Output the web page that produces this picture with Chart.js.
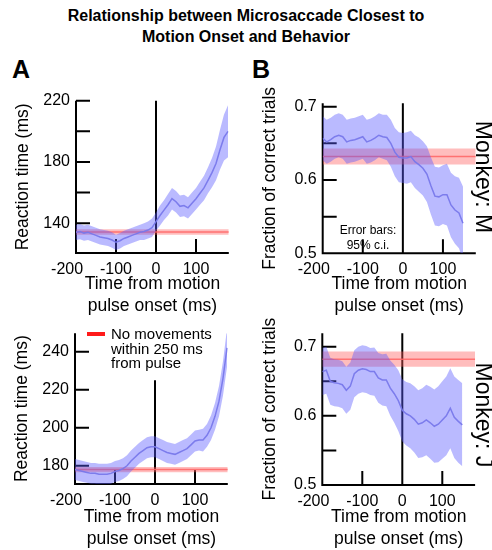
<!DOCTYPE html>
<html>
<head>
<meta charset="utf-8">
<script src="https://cdn.jsdelivr.net/npm/chart.js@4/dist/chart.umd.min.js"></script>
<style>
  body { margin: 0; width: 492px; height: 550px; overflow: hidden; position: relative; background: #fff;
         font-family: "Liberation Sans", Arial, sans-serif; color: #000; }
  canvas { position: absolute; }
  .t { position: absolute; white-space: nowrap; }
</style>
</head>
<body>
<div class="t" style="left:0;width:492px;top:5px;text-align:center;font-weight:bold;font-size:16px;line-height:21px;">Relationship between Microsaccade Closest to<br>Motion Onset and Behavior</div>
<div class="t" style="left:12px;top:57px;font-weight:bold;font-size:25px;line-height:25px;">A</div>
<div class="t" style="left:252px;top:57px;font-weight:bold;font-size:25px;line-height:25px;">B</div>

<canvas id="rtM" width="246" height="240" style="left:0;top:80px"></canvas>
<canvas id="pcM" width="246" height="240" style="left:246px;top:80px"></canvas>
<canvas id="rtJ" width="246" height="236" style="left:0;top:315px"></canvas>
<canvas id="pcJ" width="246" height="236" style="left:246px;top:315px"></canvas>

<div class="t" style="left:483px;top:177px;font-size:23px;transform:translate(-50%,-50%) rotate(90deg);">Monkey: M</div>
<div class="t" style="left:483px;top:415px;font-size:23px;transform:translate(-50%,-50%) rotate(90deg);">Monkey: J</div>
<div class="t" style="left:368px;top:223px;transform:translateX(-50%);text-align:center;font-size:12px;line-height:15px;">Error bars:<br>95% c.i.</div>
<div style="position:absolute;left:87px;top:332px;width:18px;height:4px;background:#ff1a1a;"></div>
<div class="t" style="left:111px;top:327px;font-size:15px;line-height:14.5px;">No movements<br>within 250 ms<br>from pulse</div>

<script>
// time from pulse onset (ms)
const tRT = [-200,-190,-180,-170,-160,-150,-140,-130,-120,-110,
             -100,-90,-80,-70,-60,-50,-40,-30,-20,-10,
             0,10,20,30,40,50,60,70,80,90,
             100,110,120,130,140,150,160,170,180];
const tPC = [-200,-190,-180,-170,-160,-150,-140,-130,-120,-110,
             -100,-90,-80,-70,-60,-50,-40,-30,-20,-10,
             0,10,20,30,40,50,60,70,80,90,
             100,110,120,130,140,150];

// reaction time, monkey M
const rtMeanM = [134,134.5,133.5,134,133,132,131,130.5,130,129,
                 127.5,128.5,130,131,132,133,134,134.5,135.5,137,
                 141,145,148.5,152,156,154,151,151.5,150,153,
                 156,159.5,163,168,173,179,188,196,200];
const rtCiM = [5,5,5,5,5,5,5,5,5,5,
               5,5,5,5,5,5,5,5.5,5.5,6,
               6,6.5,6.5,7,7,7,7,7,7,7,
               7,7.5,8,8.5,9.5,11,13,15,17];
// reaction time, monkey J
const rtMeanJ = [178,177.5,177,176.5,176,176,175.5,175.5,175.5,176,
                 177,177.5,178.5,180,182.5,184.5,186.5,188,189.5,190,
                 190,189,188,187,186.5,186,187,188,189,191,
                 193,193.5,193.5,196,200,206,214,226,242];
const rtCiJ = [5.5,5.5,5.5,5.5,5.5,5.5,5.5,5.5,5.5,5.5,
               5.5,5.5,5.5,5.5,5.5,5.5,5.5,5.5,5.5,5.5,
               5.5,5.5,5.5,5.5,5.5,5.5,5.5,5.5,5.5,5.5,
               5.5,5.5,6,6,6.5,7,8,9,10];
// fraction correct, monkey M
const pcMeanM = [0.657,0.652,0.655,0.659,0.661,0.659,0.652,0.654,0.655,0.657,
                 0.659,0.652,0.654,0.657,0.661,0.659,0.658,0.65,0.638,0.631,
                 0.630,0.63,0.632,0.625,0.621,0.616,0.608,0.592,0.578,0.577,
                 0.58,0.58,0.566,0.559,0.555,0.541];
const pcCiM = [0.03,0.03,0.03,0.03,0.03,0.03,0.03,0.03,0.03,0.03,
               0.03,0.03,0.03,0.03,0.03,0.03,0.031,0.032,0.033,0.034,
               0.034,0.035,0.035,0.036,0.037,0.037,0.038,0.039,0.04,0.04,
               0.04,0.042,0.044,0.046,0.048,0.05];
// fraction correct, monkey J
const pcMeanJ = [0.664,0.666,0.65,0.648,0.647,0.645,0.637,0.643,0.661,0.666,
                 0.668,0.667,0.664,0.664,0.655,0.652,0.652,0.64,0.632,0.622,
                 0.608,0.603,0.6,0.595,0.588,0.59,0.594,0.59,0.585,0.588,
                 0.594,0.6,0.611,0.598,0.592,0.587];
const pcCiJ = [0.034,0.034,0.034,0.034,0.034,0.034,0.034,0.034,0.034,0.034,
               0.034,0.034,0.034,0.035,0.036,0.037,0.038,0.04,0.042,0.044,
               0.045,0.046,0.047,0.048,0.049,0.05,0.051,0.052,0.053,0.055,
               0.056,0.057,0.058,0.059,0.06,0.06];

// "no movements within 250 ms from pulse" reference level [M, J]
const noMoveRT = [134.2, 178];
const noMoveRTci = [1.8, 1.4];
const noMovePC = [0.632, 0.682];
const noMovePCci = [0.011, 0.011];

const xTicks = [-200, -100, 0, 100];
const rtTicksM = [140, 160, 180, 200, 220];
const rtLabelsM = [140, 180, 220];
const rtTicksJ = [180, 200, 220, 240];
const pcTicks = [0.5, 0.55, 0.6, 0.65, 0.7];
const pcLabels = [0.5, 0.6, 0.7];

const FONT = '"Liberation Sans", Arial, sans-serif';
const X_MIN = -200, X_MAX = 182;

const axesPlugin = {
  id: 'axes',
  beforeDatasetsDraw(chart, args, opts) {
    const {ctx, chartArea: a, scales: {x, y}} = chart;
    ctx.save();
    ctx.strokeStyle = '#000';
    ctx.lineWidth = 2;
    ctx.beginPath();
    ctx.moveTo(a.left, a.top);
    ctx.lineTo(a.left, a.bottom);
    ctx.lineTo(a.right, a.bottom);
    y.ticks.forEach(t => {
      const py = y.getPixelForValue(t.value);
      ctx.moveTo(a.left, py); ctx.lineTo(a.left + 14, py);
    });
    x.ticks.forEach(t => {
      const px = x.getPixelForValue(t.value);
      ctx.moveTo(px, a.bottom); ctx.lineTo(px, a.bottom - 14);
    });
    const z = x.getPixelForValue(0);
    const zTop = opts.zeroTop != null ? y.getPixelForValue(opts.zeroTop) : a.top;
    ctx.moveTo(z, zTop); ctx.lineTo(z, a.bottom);
    ctx.stroke();
    ctx.restore();
  }
};

function panel(id, p) {
  const pts = (ys) => p.t.map((t, i) => ({x: t, y: ys[i]}));
  const hi = p.mean.map((m, i) => m + p.ci[i]);
  const lo = p.mean.map((m, i) => m - p.ci[i]);
  const flat = (v) => [{x: X_MIN, y: v}, {x: X_MAX, y: v}];
  const line = {pointRadius: 0, tension: 0, fill: false};
  new Chart(document.getElementById(id), {
    type: 'line',
    data: {
      datasets: [
        {...line, data: pts(p.mean), borderColor: 'rgba(120,120,235,0.95)', borderWidth: 1.5},
        {...line, data: pts(hi), borderWidth: 0, fill: '+1', backgroundColor: 'rgba(90,90,255,0.42)'},
        {...line, data: pts(lo), borderWidth: 0},
        {...line, data: flat(p.base), borderColor: 'rgba(255,100,100,0.85)', borderWidth: 1.5},
        {...line, data: flat(p.base + p.baseCi), borderWidth: 0, fill: '+1', backgroundColor: 'rgba(255,90,90,0.4)'},
        {...line, data: flat(p.base - p.baseCi), borderWidth: 0}
      ]
    },
    options: {
      responsive: false,
      animation: false,
      events: [],
      layout: {autoPadding: false, padding: {left: 0, right: p.padR, top: p.padT, bottom: p.padB}},
      plugins: {legend: {display: false}, tooltip: {enabled: false}, axes: {zeroTop: p.zeroTop}},
      scales: {
        x: {
          type: 'linear', min: X_MIN, max: X_MAX,
          grid: {display: false, drawTicks: false}, border: {display: false},
          afterBuildTicks: s => { s.ticks = xTicks.map(v => ({value: v})); },
          afterFit: s => { s.height = p.xH; },
          ticks: {autoSkip: false, maxRotation: 0, padding: 7, color: '#000', font: {family: FONT, size: 16},
                  callback: v => v === -200 ? '-200\u2007\u2007' : String(v)},
          title: {display: true, text: ['Time from motion', 'pulse onset (ms)'], color: '#000', padding: 0,
                  font: {family: FONT, size: 17.5, lineHeight: 1.25}}
        },
        y: {
          min: p.yMin, max: p.yMax,
          grid: {display: false, drawTicks: false}, border: {display: false},
          afterBuildTicks: s => { s.ticks = p.yTicks.map(v => ({value: v})); },
          afterFit: s => { s.width = p.yW; },
          ticks: {autoSkip: false, padding: 6, color: '#000', font: {family: FONT, size: 16},
                  callback: v => p.yLabels.includes(v) ? String(v) : ''},
          title: {display: true, text: p.yTitle, color: '#000', padding: {top: p.titlePad, bottom: 0},
                  font: {family: FONT, size: 17.5, lineHeight: 1.25}}
        }
      }
    },
    plugins: [axesPlugin]
  });
}

panel('rtM', {t: tRT, mean: rtMeanM, ci: rtCiM, base: noMoveRT[0], baseCi: noMoveRTci[0],
  yMin: 120.5, yMax: 220, yTicks: rtTicksM, yLabels: rtLabelsM, yTitle: 'Reaction time (ms)',
  yW: 76, padR: 17.2, padT: 20.7, padB: 3, xH: 64, titlePad: 12});
panel('pcM', {t: tPC, mean: pcMeanM, ci: pcCiM, base: noMovePC[0], baseCi: noMovePCci[0],
  yMin: 0.5, yMax: 0.7046, yTicks: pcTicks, yLabels: pcLabels, yTitle: 'Fraction of correct trials',
  yW: 76.7, padR: 16.2, padT: 23.3, padB: 3, xH: 63.7, titlePad: 13});
panel('rtJ', {t: tRT, mean: rtMeanJ, ci: rtCiJ, base: noMoveRT[1], baseCi: noMoveRTci[1],
  yMin: 170.4, yMax: 249.7, yTicks: rtTicksJ, yLabels: rtTicksJ, yTitle: 'Reaction time (ms)',
  yW: 75, padR: 18.2, padT: 18.3, padB: 0.7, xH: 66.3, titlePad: 10.8, zeroTop: 225});
panel('pcJ', {t: tPC, mean: pcMeanJ, ci: pcCiJ, base: noMovePC[1], baseCi: noMovePCci[1],
  yMin: 0.5, yMax: 0.7194, yTicks: pcTicks, yLabels: pcLabels, yTitle: 'Fraction of correct trials',
  yW: 76.3, padR: 16.9, padT: 18.3, padB: 0.7, xH: 65.3, titlePad: 13});
</script>
</body>
</html>
